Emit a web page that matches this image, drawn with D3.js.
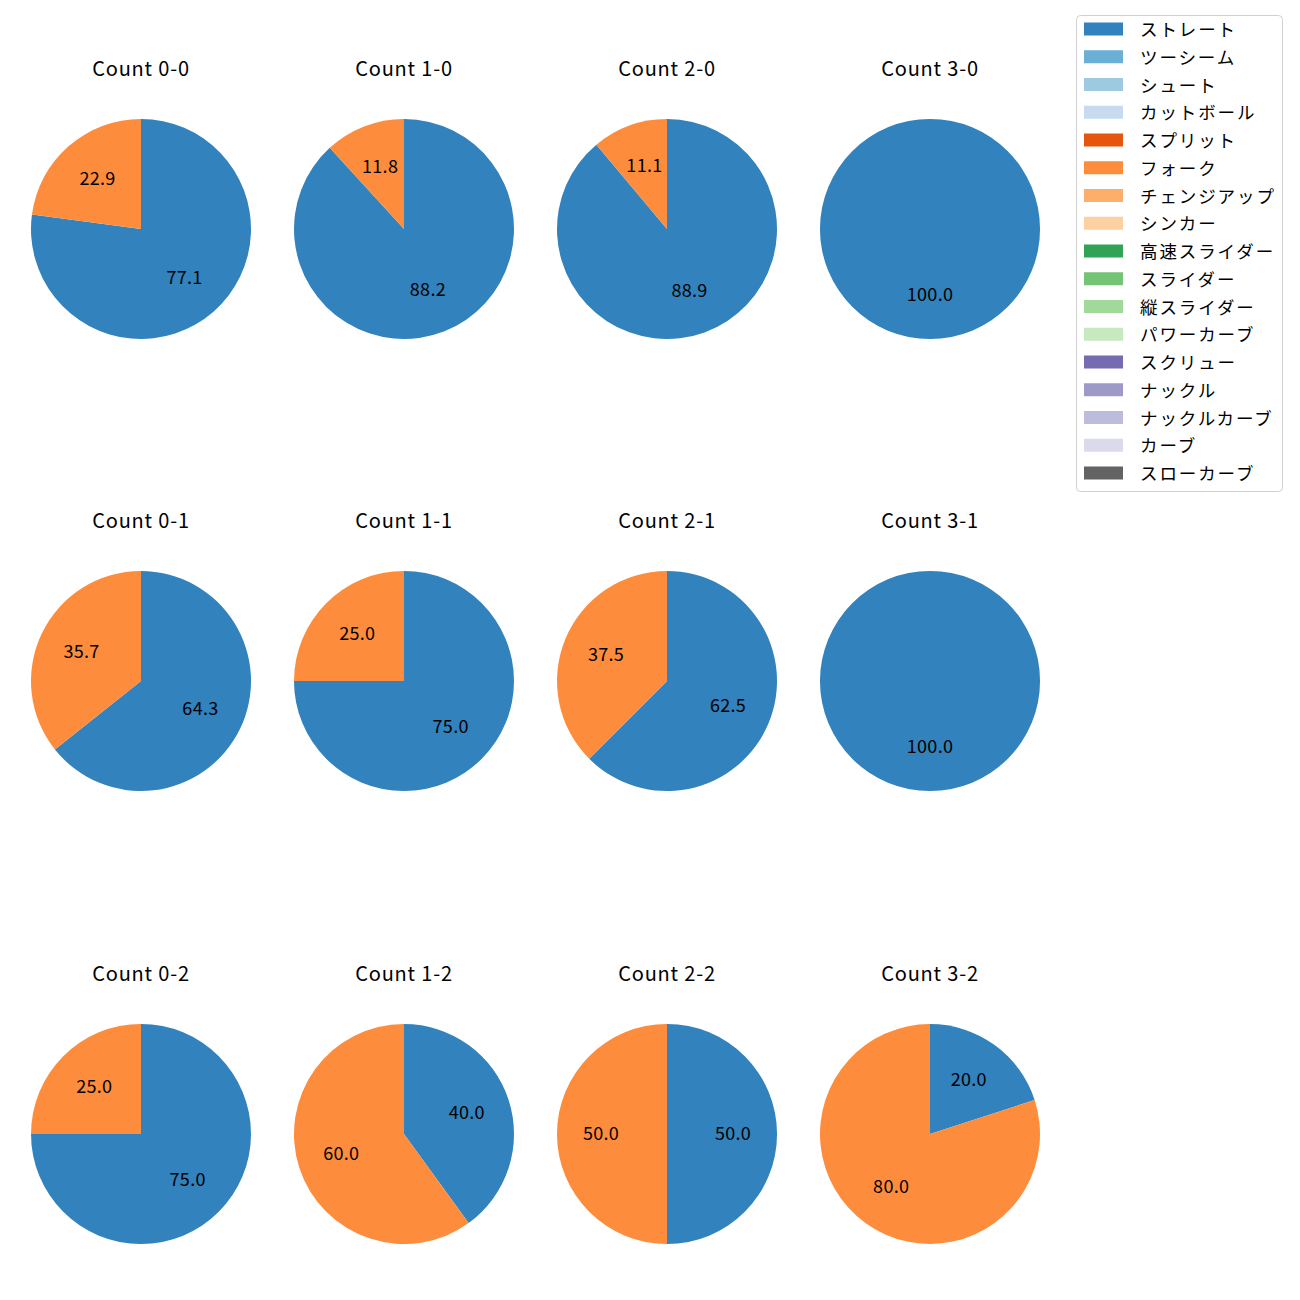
<!DOCTYPE html>
<html><head><meta charset="utf-8">
<script src="https://cdn.jsdelivr.net/npm/d3@7"></script>
<style>body{margin:0;background:#fff;} svg{display:block;}</style>
</head><body>
<svg id="chart" width="1300" height="1300"></svg>
<script>
const pitchTypes = ["ストレート","ツーシーム","シュート","カットボール","スプリット","フォーク","チェンジアップ","シンカー","高速スライダー","スライダー","縦スライダー","パワーカーブ","スクリュー","ナックル","ナックルカーブ","カーブ","スローカーブ"];
const pitchColors = ["#3182bd","#6baed6","#9ecae1","#c6dbef","#e6550d","#fd8d3c","#fdae6b","#fdd0a2","#31a354","#74c476","#a1d99b","#c7e9c0","#756bb1","#9e9ac8","#bcbddc","#dadaeb","#636363"];
const counts = ["0-0","1-0","2-0","3-0","0-1","1-1","2-1","3-1","0-2","1-2","2-2","3-2"];
// share of ストレート and フォーク per count (percent)
const straightPct = [77.1, 88.2, 88.9, 100.0, 64.3, 75.0, 62.5, 100.0, 75.0, 40.0, 50.0, 20.0];
const forkPct     = [22.9, 11.8, 11.1, 0.0, 35.7, 25.0, 37.5, 0.0, 25.0, 60.0, 50.0, 80.0];

const font = "'Noto Sans CJK JP','Noto Sans',sans-serif";
const svg = d3.select("#chart");
const colX = [141, 404, 667, 930];
const rowY = [229, 681, 1134];
const R = 110;
const color = d3.scaleOrdinal().domain(pitchTypes).range(pitchColors);
const pie = d3.pie().sort(null).value(d => d.v);
const arc = d3.arc().innerRadius(0).outerRadius(R);
const labelArc = d3.arc().innerRadius(R*0.6).outerRadius(R*0.6);

counts.forEach((c, i) => {
  const cx = colX[i % 4], cy = rowY[Math.floor(i / 4)];
  const g = svg.append("g").attr("transform", `translate(${cx},${cy})`);
  const data = [
    {name: "ストレート", v: straightPct[i]},
    {name: "フォーク", v: forkPct[i]}
  ].filter(d => d.v > 0);
  const arcs = pie(data);
  g.selectAll("path").data(arcs).join("path")
    .attr("d", arc).attr("fill", d => color(d.data.name));
  g.selectAll("text.lbl").data(arcs).join("text").attr("class","lbl")
    .attr("transform", d => { const p = labelArc.centroid(d); return `translate(${p[0]},${p[1] + 5.5})`; })
    .attr("text-anchor","middle")
    .attr("font-family", font).attr("font-size", 18).attr("letter-spacing", 0.3).attr("fill","#000")
    .text(d => d.data.v.toFixed(1));
  svg.append("text").attr("x", cx).attr("y", cy - 153)
    .attr("text-anchor","middle")
    .attr("font-family", font).attr("font-size", 20).attr("letter-spacing", 0.8).attr("fill","#000")
    .text("Count " + c);
});

// legend
const lg = svg.append("g");
lg.append("rect").attr("x",1076.5).attr("y",15.5).attr("width",206).attr("height",476)
  .attr("rx",4).attr("fill","#fff").attr("stroke","#d0d0d0").attr("stroke-width",1);
const ly = d3.scaleLinear().domain([0, pitchTypes.length - 1]).range([29, 473]);
pitchTypes.forEach((p, i) => {
  lg.append("rect").attr("x",1084).attr("y",ly(i)-6.5).attr("width",39).attr("height",13).attr("fill",color(p));
  lg.append("text").attr("x",1140).attr("y",ly(i) + 7)
    .attr("font-family",font).attr("font-size",17.5).attr("letter-spacing",1.9).attr("fill","#000").text(p);
});
</script>
</body></html>
